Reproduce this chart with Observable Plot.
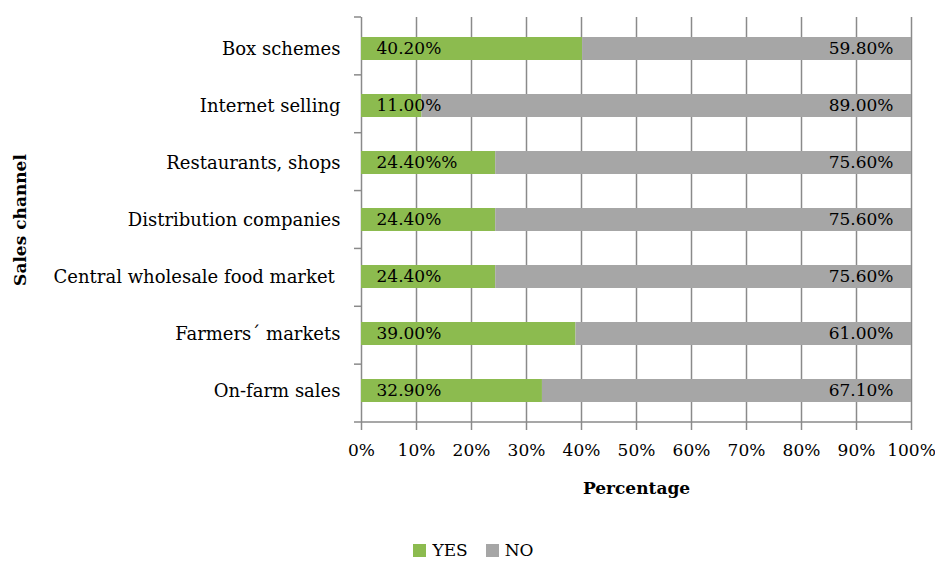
<!DOCTYPE html>
<html>
<head>
<meta charset="utf-8">
<script src="https://cdn.jsdelivr.net/npm/d3@7"></script>
<script src="https://cdn.jsdelivr.net/npm/@observablehq/plot@0.6"></script>
<style>
  body { margin: 0; background: #fff; font-family: "DejaVu Serif", serif; }
  #legend { display: flex; justify-content: center; align-items: center; height: 30px; margin-top: 10px; font-size: 17px; line-height: 1; color: #000; padding-left: 12px; }
  #legend .sw { display: inline-block; width: 13px; height: 13px; margin-right: 6px; }
  #legend .it { display: flex; align-items: center; margin: 0 9px; }
</style>
</head>
<body>
<div id="chart"></div>
<div id="legend"></div>
<script>
const categories = ["Box schemes", "Internet selling", "Restaurants, shops", "Distribution companies", "Central wholesale food market\u00a0", "Farmers´ markets", "On-farm sales"];
const yesValues = [40.2, 11.0, 24.4, 24.4, 24.4, 39.0, 32.9];
const noValues = [59.8, 89.0, 75.6, 75.6, 75.6, 61.0, 67.1];
const yesLabels = ["40.20%", "11.00%", "24.40%%", "24.40%", "24.40%", "39.00%", "32.90%"];
const noLabels = ["59.80%", "89.00%", "75.60%", "75.60%", "75.60%", "61.00%", "67.10%"];
const series = ["YES", "NO"];
const colors = ["#8cbb4f", "#a6a6a6"];
const xTicks = [0, 10, 20, 30, 40, 50, 60, 70, 80, 90, 100];

const rows = [];
categories.forEach((c, i) => {
  rows.push({channel: c, answer: "YES", value: yesValues[i]});
  rows.push({channel: c, answer: "NO", value: noValues[i]});
});
const yesRows = categories.map((c, i) => ({channel: c, label: yesLabels[i]}));
const noRows = categories.map((c, i) => ({channel: c, label: noLabels[i]}));

const gridColor = "#8a8a8a";

// axis lines & y boundary ticks drawn from plot dimensions
const axisFrame = (index, scales, values, dims) => {
  const g = d3.create("svg:g");
  const x0 = dims.marginLeft, x1 = dims.width - dims.marginRight;
  const y0 = dims.marginTop, y1 = dims.height - dims.marginBottom;
  const n = categories.length;
  const step = (y1 - y0) / n;
  g.append("line").attr("x1", x0).attr("x2", x1).attr("y1", y1).attr("y2", y1)
    .attr("stroke", gridColor).attr("stroke-width", 1.5);
  for (let i = 0; i <= n; i++) {
    const y = y0 + i * step;
    g.append("line").attr("x1", x0 - 7).attr("x2", x0).attr("y1", y).attr("y2", y)
      .attr("stroke", gridColor).attr("stroke-width", 1.5);
  }
  return g.node();
};

const plot = Plot.plot({
  width: 935,
  height: 525,
  marginLeft: 361,
  marginRight: 24,
  marginTop: 17,
  marginBottom: 103,
  style: {fontFamily: "DejaVu Serif, serif", fontSize: "17px", color: "#000", background: "#fff"},
  x: {domain: [0, 100], ticks: xTicks, tickFormat: d => d + "%", label: null},
  y: {domain: categories, paddingInner: 0.6, paddingOuter: 0.3, label: null},
  color: {domain: series, range: colors},
  marks: [
    Plot.ruleX(xTicks, {stroke: gridColor, strokeWidth: 1.5}),
    Plot.barX(rows, {x: "value", y: "channel", fill: "answer", order: series}),
    Plot.text(yesRows, {x: 0, y: "channel", text: "label", textAnchor: "start", dx: 15, fill: "#000", fontSize: 17}),
    Plot.text(noRows, {x: 100, y: "channel", text: "label", textAnchor: "end", dx: -18, fill: "#000", fontSize: 17}),
    axisFrame,
    Plot.axisX({ticks: xTicks, tickFormat: d => d + "%", tickSize: 8, tickPadding: 13, stroke: gridColor, strokeWidth: 1.5, fontSize: 17, label: null}),
    Plot.axisY({tickSize: 0, tickPadding: 21, fontSize: 18, label: null}),
    Plot.text(["Percentage"], {frameAnchor: "bottom", dy: 71, fontWeight: "bold", fontSize: 17, fill: "#000"}),
    Plot.text(["Sales channel"], {frameAnchor: "left", textAnchor: "middle", dx: -341, rotate: -90, fontWeight: "bold", fontSize: 17, fill: "#000"})
  ]
});
document.getElementById("chart").appendChild(plot);

const legend = document.getElementById("legend");
series.forEach((s, i) => {
  const it = document.createElement("span");
  it.className = "it";
  const sw = document.createElement("span");
  sw.className = "sw";
  sw.style.background = colors[i];
  it.appendChild(sw);
  it.appendChild(document.createTextNode(s));
  legend.appendChild(it);
});
</script>
</body>
</html>
